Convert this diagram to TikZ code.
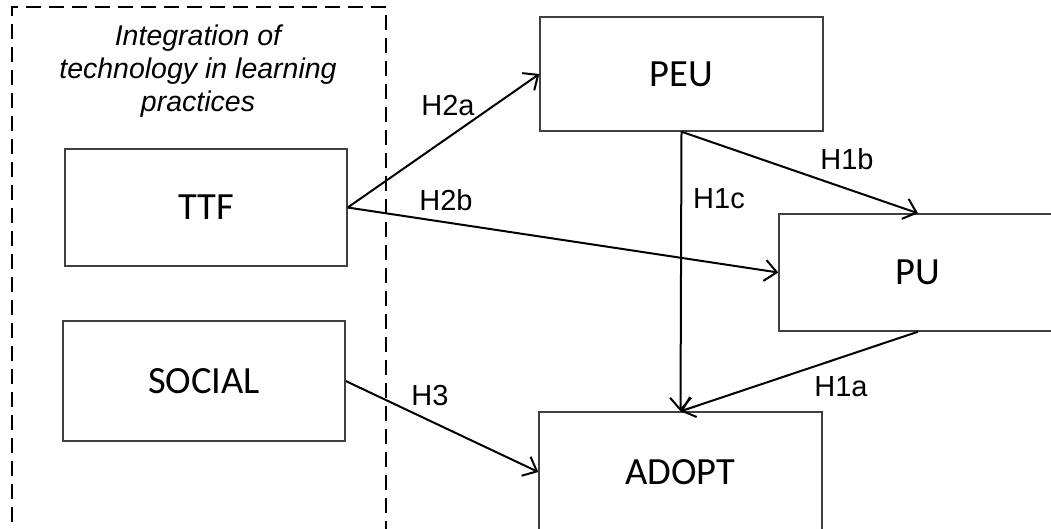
\documentclass[tikz,border=0pt]{standalone}
\usepackage{fontspec}
\setmainfont{Carlito}
\newfontfamily\labelfont{Liberation Sans}
\usetikzlibrary{arrows.meta}

\begin{document}
\begin{tikzpicture}[
x=1pt, y=-1pt,
boxnode/.style={rectangle, draw=black!75, line width=1.4pt, minimum width=282pt,
minimum height=117pt, inner sep=0pt, anchor=center, font=\fontsize{38.5}{42}\selectfont},
hypnode/.style={inner sep=0pt, font=\labelfont\fontsize{29}{33}\selectfont},
groupnode/.style={inner sep=0pt, align=center, font=\labelfont\itshape\fontsize{28.5}{33}\selectfont},
linkarrow/.style={line width=2pt, -{Straight Barb[length=12pt, width=21pt, line width=2pt]}}
]

\useasboundingbox (0,0) rectangle (1051,528);

%Group
\draw[line width=2pt, dash pattern=on 15pt off 8pt] (12,545) -- (12,7) -- (386,7) -- (386,545);
\node[groupnode] (group) at (198,71) {Integration of\\technology in learning\\practices};

%Nodes
\node[boxnode] (ttf) at (206,207.5) {TTF};
\node[boxnode, minimum height=120pt] (social) at (204,381) {SOCIAL};
\node[boxnode, minimum width=283pt, minimum height=114pt] (peu) at (681.5,74) {PEU};
\node[boxnode, minimum width=278pt] (pu) at (918,272.5) {PU};
\node[boxnode, minimum width=283pt, minimum height=120pt] (adopt) at (680.5,472) {ADOPT};

%Lines
\draw[linkarrow] (ttf.east) -- (peu.west);
\draw[linkarrow] (ttf.east) -- (pu.west);
\draw[linkarrow] (peu.south) -- (adopt.north);
\draw[linkarrow] (peu.south) -- (pu.north);
\draw[linkarrow] (pu.south) -- (adopt.north);
\draw[linkarrow] (social.east) -- (adopt.west);

%Labels
\node[hypnode] (h2a) at (448,106) {H2a};
\node[hypnode] (h2b) at (446,200) {H2b};
\node[hypnode] (h1c) at (719,199) {H1c};
\node[hypnode] (h1b) at (847,159) {H1b};
\node[hypnode] (h1a) at (841,387) {H1a};
\node[hypnode] (h3) at (430,396) {H3};

\end{tikzpicture}
\end{document}
